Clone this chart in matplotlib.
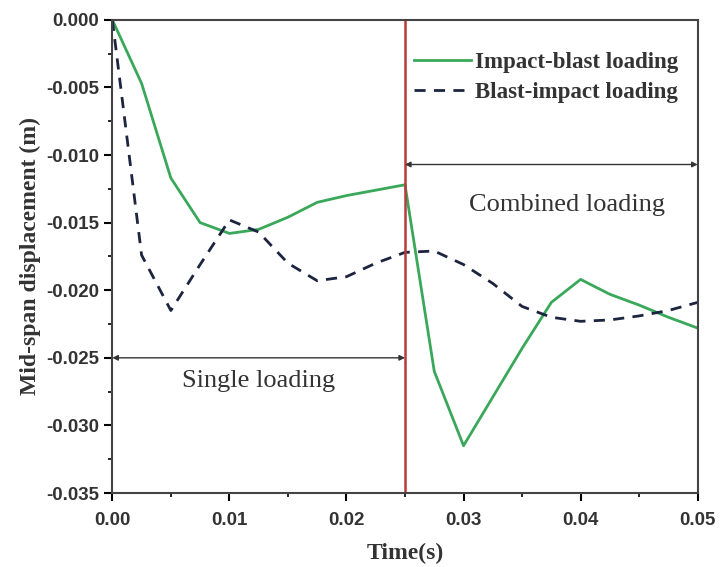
import numpy as np
import matplotlib
matplotlib.use("Agg")
import matplotlib.pyplot as plt
from matplotlib.ticker import MultipleLocator, FormatStrFormatter

t = [0.0, 0.0025, 0.005, 0.0075, 0.01, 0.0125, 0.015, 0.0175, 0.02, 0.0225, 0.025,
     0.0275, 0.03, 0.0325, 0.035, 0.0375, 0.04, 0.0425, 0.045, 0.0475, 0.05]
impact_blast = [0.0, -0.0047, -0.0117, -0.0150, -0.0158, -0.0155, -0.0146, -0.0135, -0.0130, -0.0126, -0.0122,
                -0.0260, -0.0315, -0.0279, -0.0243, -0.0209, -0.0192, -0.0203, -0.0211, -0.0220, -0.0228]
blast_impact = [0.0, -0.0174, -0.0215, -0.0181, -0.0148, -0.0157, -0.0180, -0.0193, -0.0190, -0.0180, -0.0172,
                -0.0171, -0.0181, -0.0195, -0.0212, -0.0220, -0.0223, -0.0222, -0.0219, -0.0215, -0.0209]

serif = "Liberation Serif"
sans = "Liberation Sans"
txt_col = "#333333"

fig = plt.figure(figsize=(7.2, 5.67), dpi=100)
ax = fig.add_axes([0.156, 0.1305, 0.813, 0.8345])

ax.plot(t, impact_blast, color="#3aa85a", lw=2, label="Impact-blast loading")
ax.plot(t, blast_impact, color="#1c2440", lw=2, ls=(0, (4, 3)), label="Blast-impact loading")
ax.axvline(0.025, color="#b83a3a", lw=1.8)

# single / combined loading arrows
ax.annotate("", xy=(0.0, -0.025), xytext=(0.025, -0.025),
            arrowprops=dict(arrowstyle="<|-|>", color=txt_col, lw=1, mutation_scale=8, shrinkA=0, shrinkB=0))
ax.text(0.0125, -0.0267, "Single loading", ha="center", va="center", fontsize=19, family=serif, color=txt_col)
ax.annotate("", xy=(0.025, -0.0107), xytext=(0.05, -0.0107),
            arrowprops=dict(arrowstyle="<|-|>", color=txt_col, lw=1, mutation_scale=8, shrinkA=0, shrinkB=0))
ax.text(0.0388, -0.0137, "Combined loading", ha="center", va="center", fontsize=19, family=serif, color=txt_col)

ax.set_xlim(0, 0.05)
ax.set_ylim(-0.035, 0)
ax.xaxis.set_major_locator(MultipleLocator(0.01))
ax.xaxis.set_minor_locator(MultipleLocator(0.005))
ax.yaxis.set_major_locator(MultipleLocator(0.005))
ax.yaxis.set_minor_locator(MultipleLocator(0.0025))
ax.xaxis.set_major_formatter(FormatStrFormatter("%.2f"))
ax.yaxis.set_major_formatter(FormatStrFormatter("%.3f"))
ax.tick_params(which="major", direction="out", length=6, width=1.5, labelsize=13.5)
ax.tick_params(axis="x", which="major", pad=8)
ax.tick_params(which="minor", direction="out", length=3, width=1.2)
for lab in ax.get_xticklabels() + ax.get_yticklabels():
    lab.set_family(sans)
    lab.set_fontweight("bold")
    lab.set_color(txt_col)
for s in ax.spines.values():
    s.set_linewidth(1.5)
    s.set_color("#444444")

ax.set_xlabel("Time(s)", fontsize=17, family=serif, fontweight="bold", color=txt_col, labelpad=10)
ax.set_ylabel("Mid-span displacement (m)", fontsize=17, family=serif, fontweight="bold", color=txt_col, labelpad=4)

leg = ax.legend(loc="upper right", bbox_to_anchor=(0.995, 0.965), frameon=False, handlelength=2.5,
                handletextpad=0.2, prop={"family": serif, "size": 16.5, "weight": "bold"},
                borderaxespad=0.3, labelspacing=0.35)
for txt in leg.get_texts():
    txt.set_color(txt_col)

fig.savefig("out.png", dpi=100)
